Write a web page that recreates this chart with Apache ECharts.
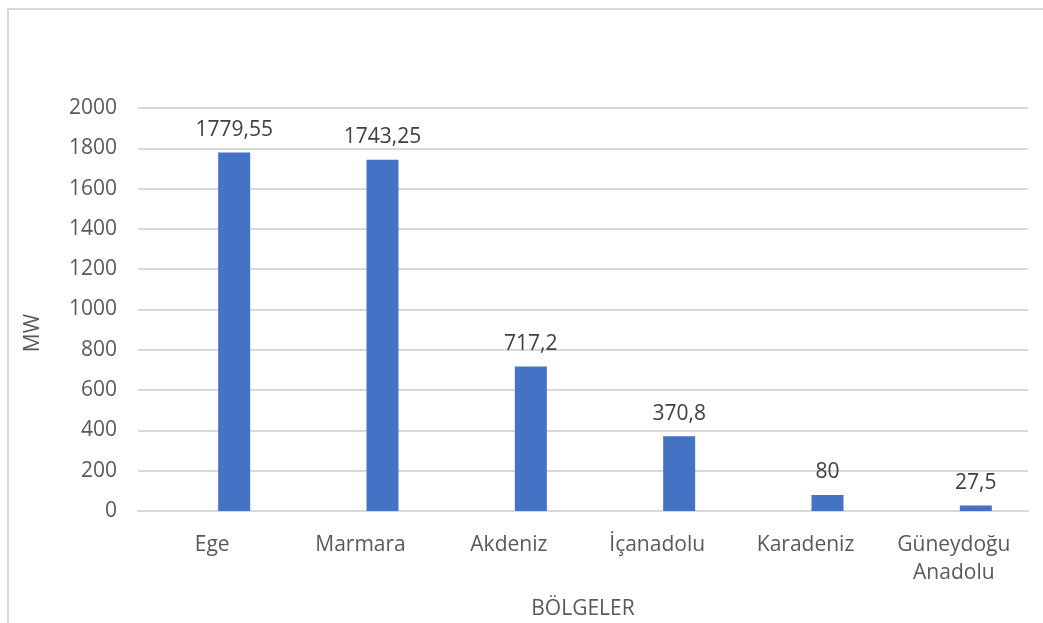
<!DOCTYPE html>
<html>
<head>
<meta charset="utf-8">
<script src="https://cdn.jsdelivr.net/npm/echarts@6/dist/echarts.min.js"></script>
<style>html,body{margin:0;padding:0;background:#fff;}#c{width:1043px;height:623px;}</style>
</head>
<body>
<div id="c"></div>
<script>
const categories = ['Ege', 'Marmara', 'Akdeniz', 'İçanadolu', 'Karadeniz', 'Güneydoğu\nAnadolu'];
const values = [1779.55, 1743.25, 717.2, 370.8, 80, 27.5];
const emptySeries = [null, null, null, null, null, null];
const yTicks = { min: 0, max: 2000, interval: 200 };
const yTitle = 'MW';
const xTitle = 'BÖLGELER';

const FONT = '"Open Sans", "Noto Sans", sans-serif';
const FS = 21;
const chart = echarts.init(document.getElementById('c'), null, { renderer: 'canvas' });
chart.setOption({
  animation: false,
  backgroundColor: '#fff',
  graphic: [
    { type: 'rect', shape: { x: 8, y: 9, width: 1100, height: 700 }, style: { fill: 'none', stroke: '#d9d9d9', lineWidth: 2 }, z: -1 },
    { type: 'text', x: 33, y: 333, rotation: Math.PI / 2, style: { text: yTitle, font: FS + 'px ' + FONT, fill: '#595959', align: 'center', verticalAlign: 'middle' } }
  ],
  grid: { left: 138, right: 15, top: 108, bottom: 112, containLabel: false, outerBoundsMode: 'none' },
  xAxis: {
    type: 'category',
    data: categories,
    name: xTitle,
    nameLocation: 'middle',
    nameGap: 88,
    nameTextStyle: { fontFamily: FONT, fontSize: FS, color: '#595959' },
    axisLine: { lineStyle: { color: '#d9d9d9', width: 2 } },
    axisTick: { show: false },
    axisLabel: { fontFamily: FONT, fontSize: FS, color: '#595959', margin: 20, lineHeight: 28, interval: 0 }
  },
  yAxis: {
    type: 'value',
    min: yTicks.min, max: yTicks.max, interval: yTicks.interval,
    axisLine: { show: false },
    axisTick: { show: false },
    axisLabel: { fontFamily: FONT, fontSize: FS, color: '#595959', margin: 21, formatter: v => String(v) },
    splitLine: { lineStyle: { color: '#d9d9d9', width: 2 } }
  },
  series: [
    { type: 'bar', data: emptySeries, barWidth: 32, barGap: '37.5%', itemStyle: { color: '#ED7D31' } },
    {
      type: 'bar', data: values, barWidth: 32, barGap: '37.5%',
      itemStyle: { color: '#4472C4' },
      label: {
        show: true, position: 'top', distance: 12,
        fontFamily: FONT, fontSize: FS, color: '#404040',
        formatter: p => String(p.value).replace('.', ',')
      }
    }
  ]
});
</script>
</body>
</html>
